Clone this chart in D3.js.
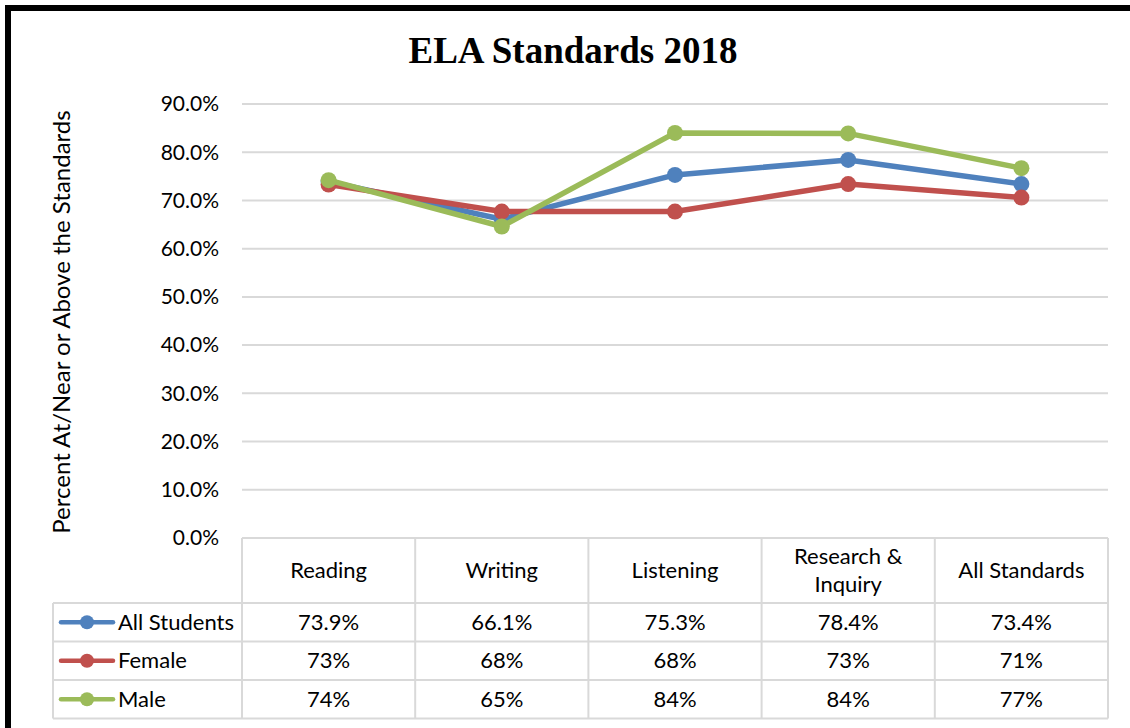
<!DOCTYPE html>
<html>
<head>
<meta charset="utf-8">
<script src="https://cdn.jsdelivr.net/npm/d3@7"></script>
<style>
  body { margin: 0; background: #fff; }
  text { font-family: Lato, 'Open Sans', sans-serif; fill: #000; }
</style>
</head>
<body>
<script>
const categories = ['Reading', 'Writing', 'Listening', 'Research & Inquiry', 'All Standards'];
const seriesNames = ['All Students', 'Female', 'Male'];
const allStudents = [73.9, 66.1, 75.3, 78.4, 73.4];
const female = [73.3, 67.7, 67.7, 73.4, 70.6];
const male = [74.2, 64.6, 84.0, 83.9, 76.7];
const yTicks = [0, 10, 20, 30, 40, 50, 60, 70, 80, 90];
const colors = ['#4f81bd', '#c0504d', '#9bbb59'];

const series = [
  { name: seriesNames[0], values: allStudents, fmt: d => d.toFixed(1) + '%' },
  { name: seriesNames[1], values: female, fmt: d => Math.round(d) + '%' },
  { name: seriesNames[2], values: male, fmt: d => Math.round(d) + '%' },
];

const W = 1130, H = 728;
const plot = { left: 242, right: 1108, top: 104, bottom: 538 };

const svg = d3.select('body').append('svg')
  .attr('width', W)
  .attr('height', H);

// outer frame (cut off at right and bottom)
svg.append('rect')
  .attr('x', 8).attr('y', 8)
  .attr('width', W + 20).attr('height', H + 20)
  .attr('fill', 'none')
  .attr('stroke', '#000')
  .attr('stroke-width', 6);

svg.append('text')
  .attr('x', 573).attr('y', 63)
  .attr('text-anchor', 'middle')
  .style('font-family', "'Liberation Serif', 'Times New Roman', serif")
  .style('font-weight', 'bold')
  .style('font-size', '37px')
  .text('ELA Standards 2018');

const x = d3.scaleBand()
  .domain(categories)
  .range([plot.left, plot.right]);

const y = d3.scaleLinear()
  .domain([0, 90])
  .range([plot.bottom, plot.top]);

// gridlines
svg.append('g')
  .selectAll('line')
  .data(yTicks.filter(d => d > 0))
  .enter().append('line')
  .attr('x1', plot.left).attr('x2', plot.right)
  .attr('y1', d => y(d)).attr('y2', d => y(d))
  .attr('stroke', '#d9d9d9')
  .attr('stroke-width', 2);

// y tick labels
svg.append('g')
  .selectAll('text')
  .data(yTicks)
  .enter().append('text')
  .attr('x', 219)
  .attr('y', d => y(d))
  .attr('dy', '0.35em')
  .attr('text-anchor', 'end')
  .style('font-size', '21px')
  .text(d => d.toFixed(1) + '%');

svg.append('text')
  .attr('transform', 'translate(70,322) rotate(-90)')
  .attr('text-anchor', 'middle')
  .style('font-size', '24px')
  .text('Percent At/Near or Above the Standards');

// lines
const line = d3.line()
  .x((d, i) => x(categories[i]) + x.bandwidth() / 2)
  .y(d => y(d));

const sg = svg.selectAll('.series')
  .data(series)
  .enter().append('g')
  .attr('class', 'series');

sg.append('path')
  .attr('d', d => line(d.values))
  .attr('fill', 'none')
  .attr('stroke', (d, i) => colors[i])
  .attr('stroke-width', 5.5)
  .attr('stroke-linejoin', 'round');

sg.each(function (s, si) {
  d3.select(this).selectAll('circle')
    .data(s.values)
    .enter().append('circle')
    .attr('cx', (d, i) => x(categories[i]) + x.bandwidth() / 2)
    .attr('cy', d => y(d))
    .attr('r', 8)
    .attr('fill', colors[si]);
});

// data table
const rowY = [538, 603, 641.5, 680, 718.5];
const legendLeft = 53;
const grid = svg.append('g')
  .attr('stroke', '#d9d9d9')
  .attr('stroke-width', 2);

// horizontal rules
grid.append('line')
  .attr('x1', plot.left).attr('x2', plot.right)
  .attr('y1', rowY[0]).attr('y2', rowY[0]);
rowY.slice(1).forEach(ry => {
  grid.append('line')
    .attr('x1', legendLeft).attr('x2', plot.right)
    .attr('y1', ry).attr('y2', ry);
});
// vertical rules
grid.append('line')
  .attr('x1', legendLeft).attr('x2', legendLeft)
  .attr('y1', rowY[1]).attr('y2', rowY[4]);
categories.forEach(c => {
  grid.append('line')
    .attr('x1', x(c)).attr('x2', x(c))
    .attr('y1', rowY[0]).attr('y2', rowY[4]);
});
grid.append('line')
  .attr('x1', plot.right).attr('x2', plot.right)
  .attr('y1', rowY[0]).attr('y2', rowY[4]);

// header labels
const header = svg.append('g')
  .selectAll('text')
  .data(categories)
  .enter().append('text')
  .attr('x', d => x(d) + x.bandwidth() / 2)
  .attr('text-anchor', 'middle')
  .style('font-size', '22px');

header.each(function (d) {
  const t = d3.select(this);
  const midY = (rowY[0] + rowY[1]) / 2;
  if (d === 'Research & Inquiry') {
    t.append('tspan').attr('x', x(d) + x.bandwidth() / 2).attr('y', midY - 14).attr('dy', '0.35em').text('Research &');
    t.append('tspan').attr('x', x(d) + x.bandwidth() / 2).attr('y', midY + 14).attr('dy', '0.35em').text('Inquiry');
  } else {
    t.attr('y', midY).attr('dy', '0.35em').text(d);
  }
});

// series rows
series.forEach((s, si) => {
  const cy = (rowY[si + 1] + rowY[si + 2]) / 2;
  const row = svg.append('g');
  row.append('line')
    .attr('x1', 61).attr('x2', 113)
    .attr('y1', cy).attr('y2', cy)
    .attr('stroke', colors[si])
    .attr('stroke-width', 4.5)
    .attr('stroke-linecap', 'round');
  row.append('circle')
    .attr('cx', 87).attr('cy', cy)
    .attr('r', 7)
    .attr('fill', colors[si]);
  row.append('text')
    .attr('x', 118).attr('y', cy)
    .attr('dy', '0.35em')
    .style('font-size', '22px')
    .text(s.name);
  row.selectAll('.val')
    .data(s.values)
    .enter().append('text')
    .attr('class', 'val')
    .attr('x', (d, i) => x(categories[i]) + x.bandwidth() / 2)
    .attr('y', cy)
    .attr('dy', '0.35em')
    .attr('text-anchor', 'middle')
    .style('font-size', '22px')
    .text(d => s.fmt(d));
});
</script>
</body>
</html>
